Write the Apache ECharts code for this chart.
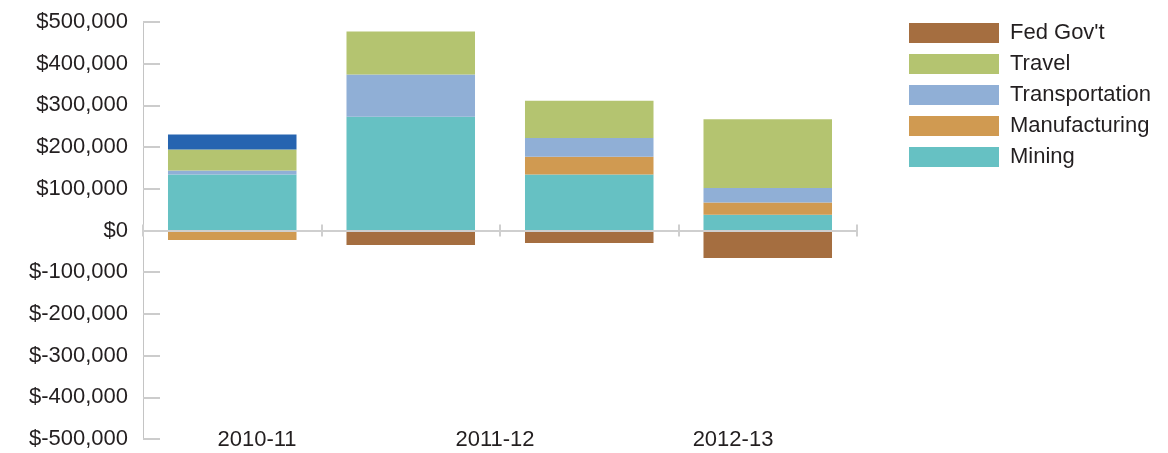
<!DOCTYPE html>
<html>
<head>
<meta charset="utf-8">
<script src="https://cdn.jsdelivr.net/npm/echarts@6/dist/echarts.min.js"></script>
<style>
html,body{margin:0;padding:0;background:#fff;}
#chart{width:1168px;height:453px;}
</style>
</head>
<body>
<div id="chart"></div>
<script>
// Tick labels under the axis (three year labels)
const yearLabels = ['2010-11', '2011-12', '2012-13'];
// Bar slots along the axis (four columns)
const barSlots = ['col1', 'col2', 'col3', 'col4'];

// Series values (dollars), one per bar slot
const mining         = [134000, 273000, 134000, 38000];
const manufacturing  = [-23000, 0, 43000, 29000];
const transportation = [10000, 101000, 45000, 35000];
const travel         = [50000, 103000, 89000, 165000];
const other          = [36000, 0, 0, 0];
const fedGov         = [0, -35000, -30000, -66000];

const legendOrder = ["Fed Gov't", 'Travel', 'Transportation', 'Manufacturing', 'Mining'];

const FONT = '"Liberation Sans", Arial, sans-serif';
const TXT = '#231f20';

const chart = echarts.init(document.getElementById('chart'), null, {renderer: 'canvas'});

function bar(name, data, color) {
  return {
    name: name, type: 'bar', stack: 'total', data: data,
    xAxisIndex: 0, yAxisIndex: 0,
    barWidth: '72%',
    itemStyle: {color: color},
    emphasis: {disabled: true}
  };
}

chart.setOption({
  animation: false,
  grid: {left: 143, right: 311, top: 22, bottom: 14, containLabel: false},
  legend: {
    data: legendOrder,
    orient: 'vertical',
    left: 909, top: 22, padding: 0,
    icon: 'rect',
    itemWidth: 90, itemHeight: 20, itemGap: 9,
    textStyle: {fontFamily: FONT, fontSize: 22, color: TXT, lineHeight: 20, height: 20, padding: [0, 0, 0, 6]},
    selectedMode: false
  },
  xAxis: [
    {
      type: 'category', data: barSlots, position: 'bottom', z: 5,
      axisLine: {show: true, onZero: true, onZeroAxisIndex: 0, lineStyle: {color: '#cfcfcf', width: 2}},
      axisTick: {show: true, length: 6, lineStyle: {color: '#cfcfcf', width: 2}},
      axisLabel: {show: false}, splitLine: {show: false}
    },
    {
      type: 'category', data: barSlots, position: 'top', z: 5,
      axisLine: {show: false, onZero: true, onZeroAxisIndex: 0},
      axisTick: {show: true, length: 6, lineStyle: {color: '#cfcfcf', width: 2}},
      axisLabel: {show: false}, splitLine: {show: false}
    },
    {
      type: 'category', data: yearLabels, position: 'bottom',
      axisLine: {show: false, onZero: false},
      axisTick: {show: false},
      axisLabel: {show: true, margin: -10, fontFamily: FONT, fontSize: 22, color: TXT, padding: [0, 10, 0, 0]},
      splitLine: {show: false}
    }
  ],
  yAxis: [{
    type: 'value', min: -500000, max: 500000, interval: 100000,
    axisLine: {show: true, lineStyle: {color: '#c4c4c4', width: 1}},
    axisTick: {show: true, inside: true, length: 17, lineStyle: {color: '#cccccc', width: 2}},
    axisLabel: {
      margin: 15, fontFamily: FONT, fontSize: 22, color: TXT,
      formatter: function (v) { return '$' + Number(v).toLocaleString('en-US'); }
    },
    splitLine: {show: false}
  }],
  series: [
    bar('Mining', mining, '#66c1c3'),
    bar('Manufacturing', manufacturing, '#d09a51'),
    bar('Transportation', transportation, '#90afd6'),
    bar('Travel', travel, '#b4c470'),
    bar('Other', other, '#2664b0'),
    bar("Fed Gov't", fedGov, '#a56e40')
  ]
});
</script>
</body>
</html>
